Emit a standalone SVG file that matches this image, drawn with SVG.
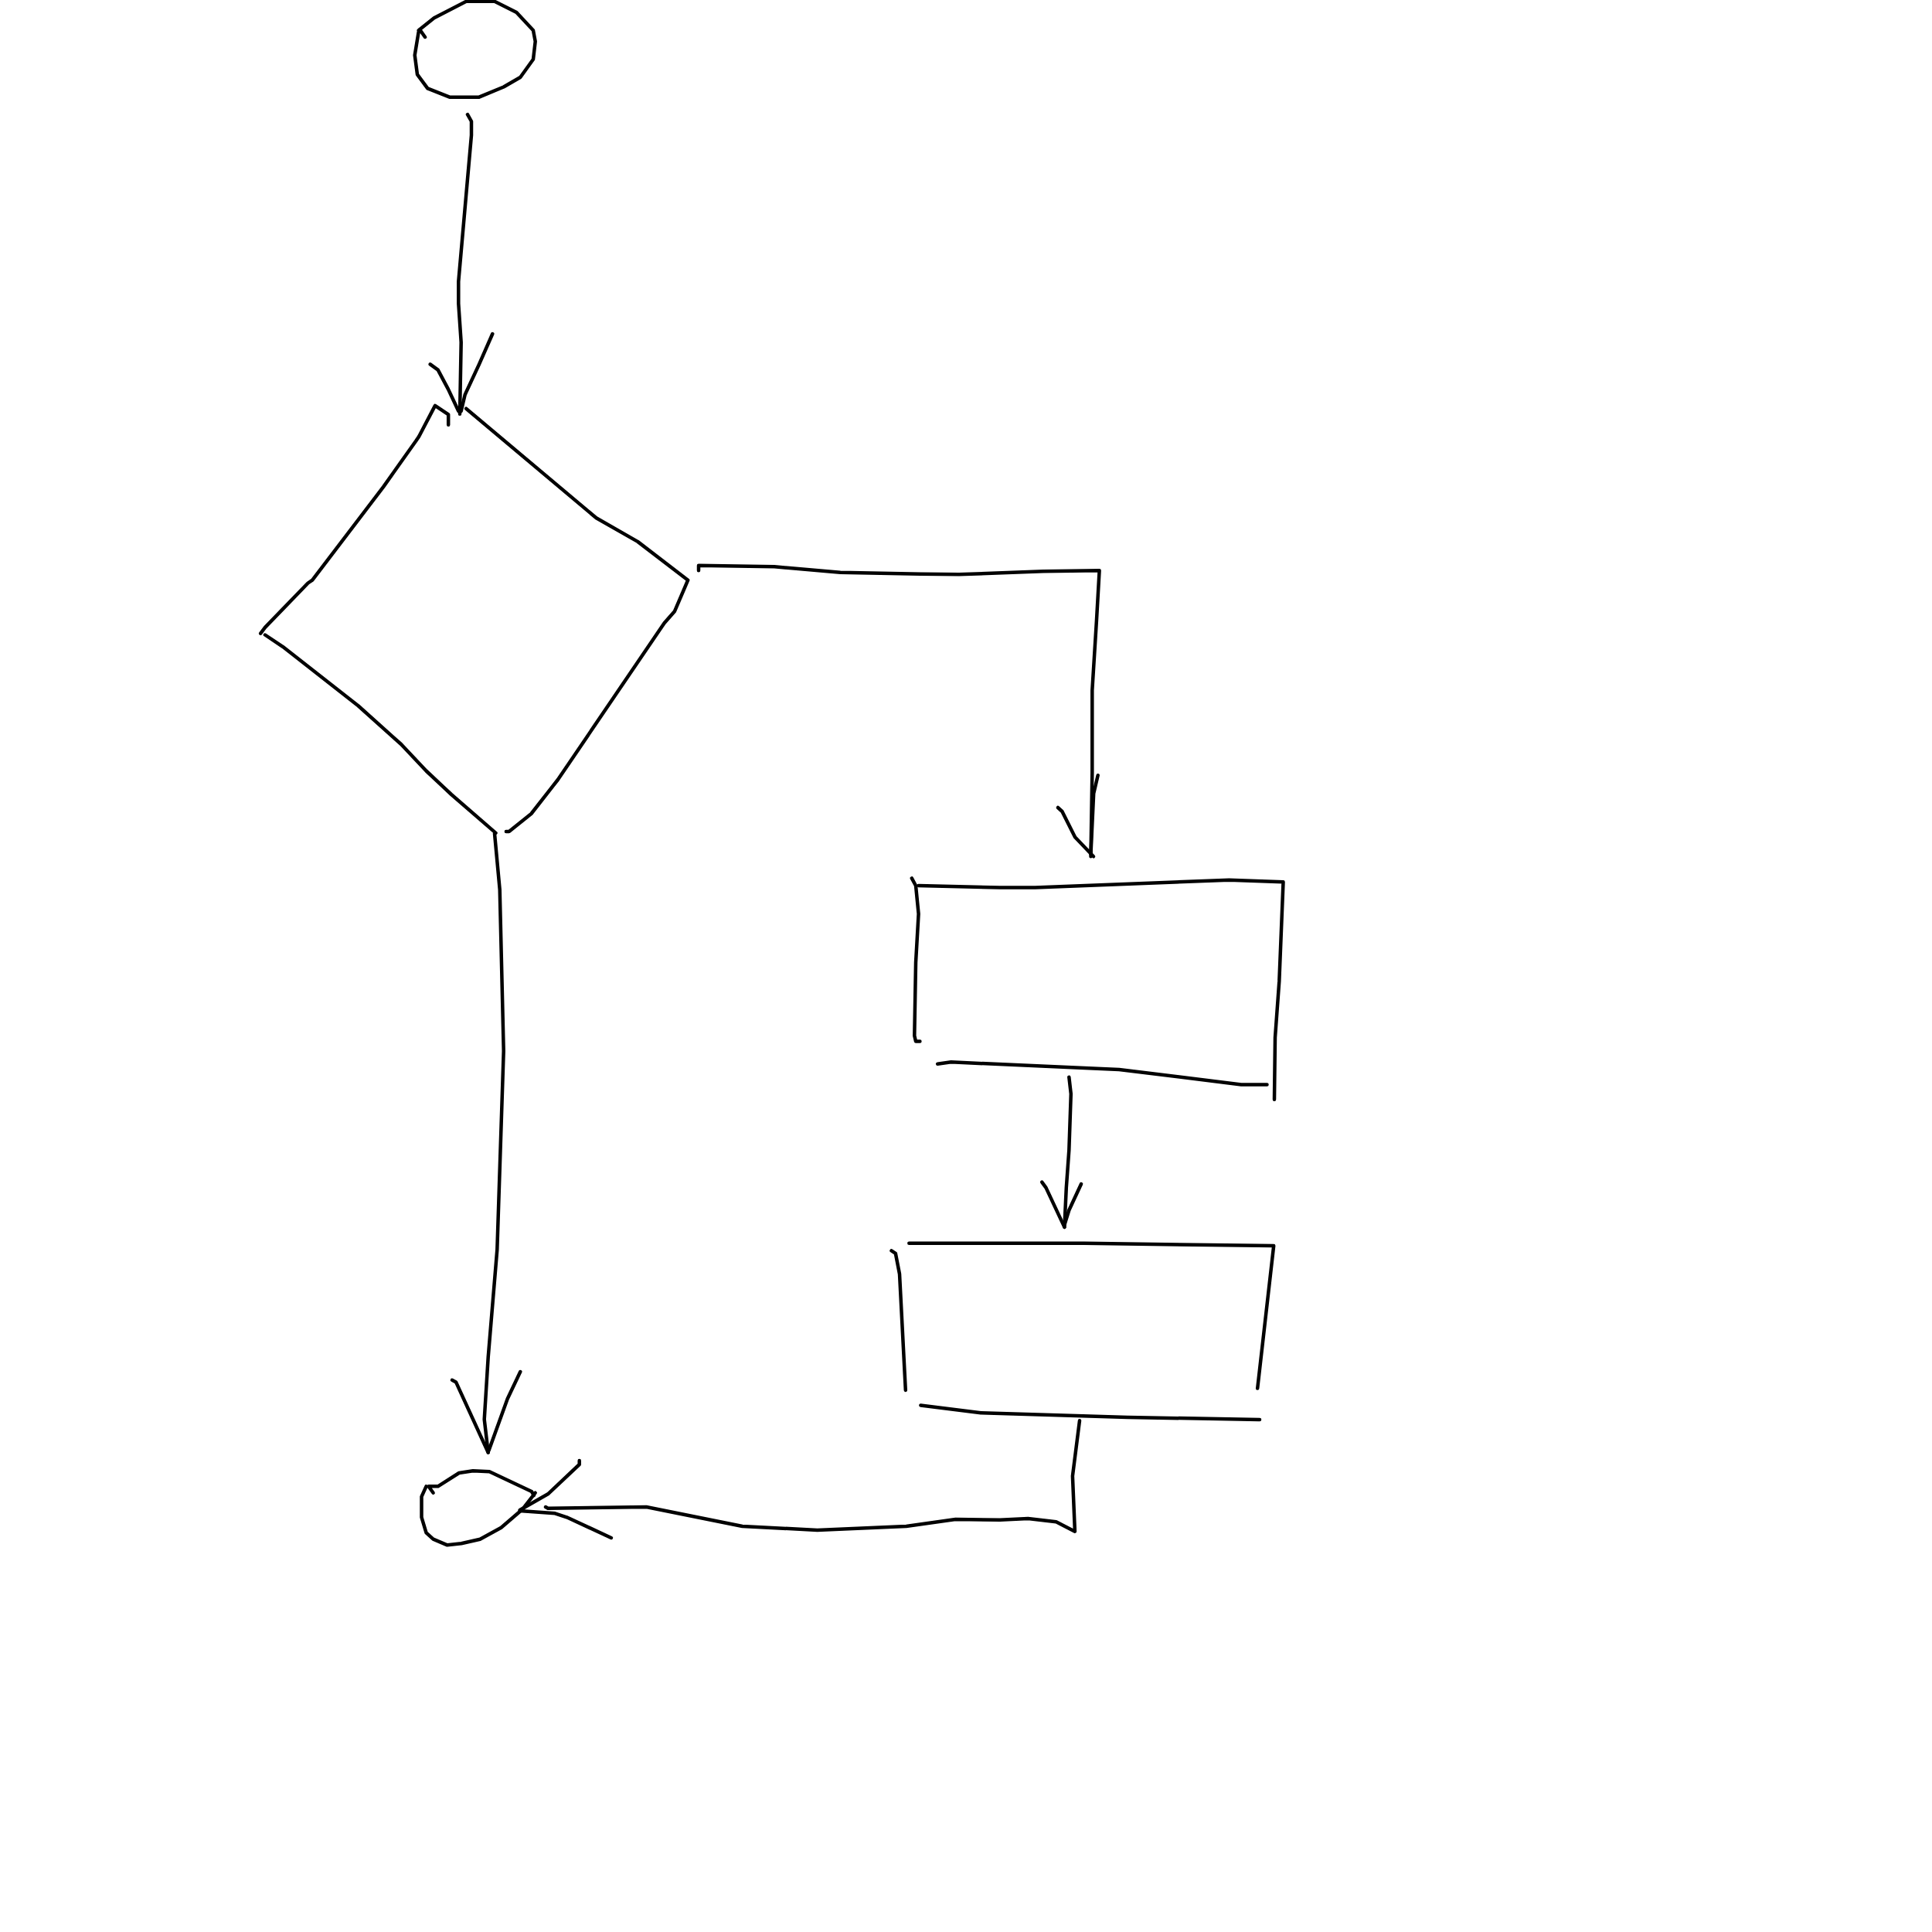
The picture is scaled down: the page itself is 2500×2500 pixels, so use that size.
<svg xmlns="http://www.w3.org/2000/svg" width="2500" height="2500" viewBox="0 0 2500 2500">
<style>
.s{fill:none;stroke:#000;stroke-width:4.5;stroke-linecap:round;stroke-linejoin:round}
</style>
<rect width="2500" height="2500" fill="#fff"/>
<g id="start" class="s">
<path d="M550,48 L543,38 L541.7,39.3 L561.7,23.2 L603.3,1.8 L640,1.8 L668.3,16 L690,39.3 L692.7,53.6 L690,76.8 L673.3,100 L651.7,112.5 L620,125.7 L581.7,125.7 L553.3,114.3 L540,96.4 L536.7,71.4 L541.7,41"/>
</g>
<g id="decision" class="s">
<path d="M580.2,549.8 L580.2,536.4 L563,524.9 L542,565 L538.1,570.8 L496,630.1 L404.2,750.7 L398.5,754.5 L343,811.9 L337.2,819.6"/>
<path d="M343,821.5 L365.9,836.8 L463.5,913.3 L519,963 L551.5,997.5 L584,1028 L641.5,1077.9"/>
<path d="M603.2,528.7 L771.6,670.3 L825.2,700.9 L890.2,750.7 L873,790.9 L859.6,806.2 L721.8,1009 L687.4,1053 L658.7,1076 L654.9,1076"/>
</g>
<g id="process1" class="s">
<path d="M1179.8,1136.4 L1185,1146 L1188.6,1182.5 L1185,1245.6 L1183.3,1340.3 L1185,1347.6 L1190.4,1347.6"/>
<path d="M1188.6,1146 L1293.9,1148.5 L1339.5,1148.5 L1590.4,1138.8 L1660.5,1141.3 L1655.3,1269.9 L1650,1342.7 L1649,1422.8"/>
<path d="M1213.2,1376.7 L1230.7,1374.3 L1392.1,1381.6 L1448.2,1384 L1606.1,1403.4 L1639.5,1403.4"/>
</g>
<g id="process2" class="s">
<path d="M1153.5,1618.4 L1158.8,1621.8 L1164,1648.5 L1171.8,1799"/>
<path d="M1176.3,1608.7 L1402.6,1608.7 L1648.2,1612.1 L1627.2,1796.6"/>
<path d="M1191.4,1818.4 L1269.3,1828.2 L1458.8,1834 L1630,1836.9"/>
</g>
<g id="end" class="s">
<path d="M560.6,1931.7 L554.5,1923.3 L566.7,1923.3 L594,1906 L612,1903.3 L633.3,1904.3 L645.5,1910 L687.9,1930 L690.9,1935"/>
<path d="M692.7,1931.7 L675.8,1953.3 L648.5,1976.7 L621.2,1991.7 L597,1997.3 L578.8,1999.3 L560.6,1991.7 L551.5,1983.3 L545.5,1963.3 L545.5,1936.7 L551.5,1923.3"/>
</g>
<g id="connectors" class="s">
<path d="M605,148.2 L610,157 L610,175 L593.3,364.3 L593.3,392.9 L596.7,442.9 L595,535.7"/>
<path d="M556.7,471.4 L566.7,478.6 L580,503.6 L593.3,532"/>
<path d="M637.3,432 L620,471.4 L601.7,510.7 L596.7,532"/>
<path d="M904,738.3 L904,731.7 L1002,733.3 L1087.4,740.7 L1191,742.7 L1241,743.3 L1350,739.3 L1422.6,738.3 L1418.9,803.3 L1413.3,893.3 L1413.3,1000 L1411.5,1108.3"/>
<path d="M1368.9,1045 L1374.4,1050 L1391.1,1083.3 L1415,1108.3"/>
<path d="M1420.7,1003.3 L1415.2,1026.7 L1411.5,1105"/>
<path d="M1383.3,1393.7 L1385.8,1415.5 L1383.3,1488.3 L1379.8,1536.9 L1377.4,1587.9"/>
<path d="M1348.2,1529.6 L1353.5,1536.9 L1377.4,1587.9"/>
<path d="M1399.1,1532 L1383.3,1566 L1377.4,1585"/>
<path d="M640,1078.7 L646.7,1151 L651.7,1360 L643.3,1617 L631.7,1756.3 L626.7,1836.7 L631.7,1879.5"/>
<path d="M585,1785.8 L590,1788.4 L631.7,1879.5"/>
<path d="M673.3,1775 L656.7,1810 L632.5,1877"/>
<path d="M1397,1838.3 L1387.9,1910 L1390.9,1981.7 L1366.7,1969.3 L1330.3,1965 L1294,1966.7 L1236.4,1966 L1172.7,1975 L1057.6,1980 L960.6,1975 L836.4,1950 L709,1951.7 L706,1950"/>
<path d="M749.7,1890 L749.7,1895 L709,1933.3 L672.7,1954"/>
<path d="M672.7,1955 L718.2,1958.3 L733.3,1963.3 L790.9,1990"/>
</g>
</svg>
